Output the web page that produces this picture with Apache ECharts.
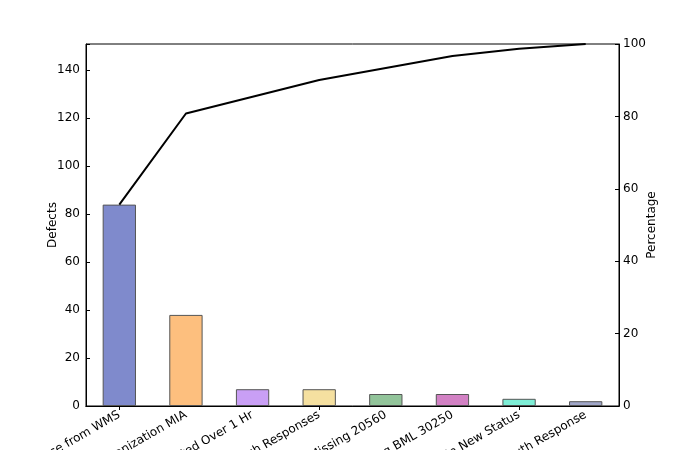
<!DOCTYPE html>
<html><head><meta charset="utf-8">
<script src="https://cdn.jsdelivr.net/npm/echarts@6/dist/echarts.min.js"></script>
<style>html,body{margin:0;padding:0;background:#fff}#c{width:690px;height:450px}</style>
</head><body><div id="c"></div>
<script>
const categories = ["No Response from WMS","Organization MIA","Not Completed Over 1 Hr","Mismatch Responses","Missing 20560","Missing BML 30250","Stuck In New Status","No Auth Response"];
const defects = [84, 38, 7, 7, 5, 5, 3, 2];
const barColors = ["#7f8acc","#fdbf7e","#c99ff5","#f5e0a0","#92c49a","#d281c4","#7eeed6","#a0a6c8"];
const leftTicks = [0,20,40,60,80,100,120,140];
const rightTicks = [0,20,40,60,80,100];

const total = defects.reduce((a,b)=>a+b,0);
let run = 0;
const cumPct = defects.map(v => { run += v; return run / total * 100; });

const font = "DejaVu Sans";
const chart = echarts.init(document.getElementById('c'), null, {renderer:'canvas'});
chart.setOption({
  animation:false,
  grid:{left:86, right:71, top:44, bottom:44, containLabel:false, outerBoundsMode:'none',
    show:true, borderColor:'#000', borderWidth:1, backgroundColor:'transparent'},
  xAxis:[{
    type:'category', data:categories, boundaryGap:true, gridIndex:0,
    axisLine:{lineStyle:{color:'#000', width:1}},
    axisTick:{alignWithLabel:true, inside:true, length:4, lineStyle:{color:'#000'}},
    axisLabel:{rotate:30, color:'#000', fontFamily:font, fontSize:12, margin:8, interval:0},
    splitLine:{show:false}
  },{
    type:'category', data:categories, position:'top', boundaryGap:true, gridIndex:0,
    axisLine:{show:true, lineStyle:{color:'#000', width:1}},
    axisTick:{show:true, alignWithLabel:true, inside:true, length:4, lineStyle:{color:'#000'}},
    axisLabel:{show:false}, splitLine:{show:false}
  }],
  yAxis:[{
    type:'value', min:0, max:total, interval:20, position:'left',
    name:'Defects', nameLocation:'middle', nameGap:27, nameRotate:90, nameMoveOverlap:false,
    nameTextStyle:{color:'#000', fontFamily:font, fontSize:12},
    axisLine:{show:true, lineStyle:{color:'#000'}},
    axisTick:{show:true, inside:true, length:4, lineStyle:{color:'#000'}},
    axisLabel:{color:'#000', fontFamily:font, fontSize:12, margin:6,
      formatter: v => leftTicks.includes(v) ? String(v) : ''},
    splitLine:{show:false}
  },{
    type:'value', min:0, max:100, interval:20, position:'right',
    name:'Percentage', nameLocation:'middle', nameGap:27, nameRotate:90, nameMoveOverlap:false,
    nameTextStyle:{color:'#000', fontFamily:font, fontSize:12},
    axisLine:{show:true, lineStyle:{color:'#000'}},
    axisTick:{show:true, inside:true, length:4, lineStyle:{color:'#000'}},
    axisLabel:{color:'#000', fontFamily:font, fontSize:12, margin:4,
      formatter: v => rightTicks.includes(v) ? String(v) : ''},
    splitLine:{show:false}
  }],
  series:[{
    type:'bar', xAxisIndex:0, yAxisIndex:0, barWidth:'50%',
    data: defects.map((v,i)=>({value:v, itemStyle:{color:barColors[i], borderColor:'#555', borderWidth:1}})),
    z:2
  },{
    type:'line', xAxisIndex:0, yAxisIndex:1, data:cumPct, showSymbol:false, symbol:'none',
    lineStyle:{color:'#000', width:2}, z:3
  }]
});
</script></body></html>
